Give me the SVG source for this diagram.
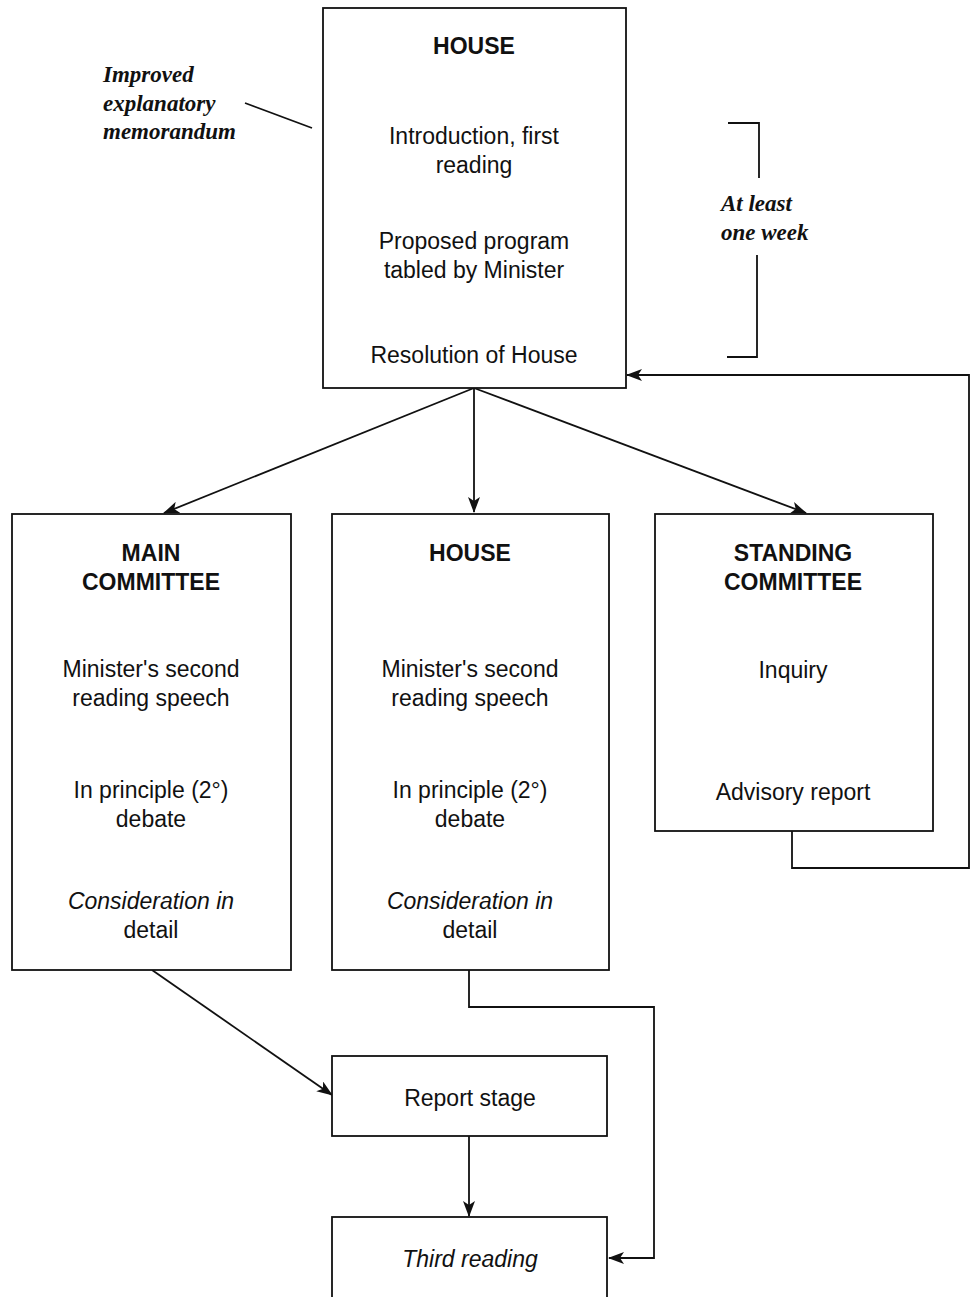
<svg xmlns="http://www.w3.org/2000/svg" width="972" height="1297" viewBox="0 0 972 1297">
<style>
.box{fill:#fff;stroke:#111;stroke-width:1.8}
.t{font-family:"Liberation Sans",Arial,sans-serif;font-size:23px;fill:#111;text-anchor:middle}
.b{font-weight:bold}
.i{font-style:italic}
.ann{font-family:"Liberation Serif","Times New Roman",serif;font-style:italic;font-weight:bold;font-size:23px;fill:#111}
.c{fill:none;stroke:#111;stroke-width:1.8}
</style>
<defs>
<marker id="ah" viewBox="0 0 16 12" refX="15" refY="6" markerWidth="16" markerHeight="12" markerUnits="userSpaceOnUse" orient="auto">
<path d="M0,0 L16,6 L0,12 L4,6 Z" fill="#111"/>
</marker>
</defs>
<rect width="972" height="1297" fill="#fff"/>
<g id="connectors">
<line class="c" x1="474" y1="388" x2="164" y2="513" marker-end="url(#ah)"/>
<line class="c" x1="474" y1="388" x2="474" y2="512" marker-end="url(#ah)"/>
<line class="c" x1="474" y1="388" x2="806" y2="513" marker-end="url(#ah)"/>
<polyline class="c" points="792,831 792,868 969,868 969,375 627,375" marker-end="url(#ah)"/>
<line class="c" x1="152" y1="970" x2="332" y2="1095" marker-end="url(#ah)"/>
<line class="c" x1="469" y1="1136" x2="469" y2="1216" marker-end="url(#ah)"/>
<polyline class="c" points="469,970 469,1007 654,1007 654,1258 609,1258" marker-end="url(#ah)"/>
</g>
<g id="annotation-memo">
<text class="ann" x="103" y="82">Improved</text>
<text class="ann" x="103" y="111">explanatory</text>
<text class="ann" x="103" y="139">memorandum</text>
<line class="c" x1="245" y1="103" x2="312" y2="128"/>
</g>
<g id="annotation-week">
<polyline class="c" points="728,123 759,123 759,178"/>
<text class="ann" x="721" y="211">At least</text>
<text class="ann" x="721" y="240">one week</text>
<polyline class="c" points="757,255 757,357 727,357"/>
</g>
<g id="house-top">
<rect class="box" x="323" y="8" width="303" height="380"/>
<text class="t b" x="474" y="54">HOUSE</text>
<text class="t" x="474" y="144">Introduction, first</text>
<text class="t" x="474" y="173">reading</text>
<text class="t" x="474" y="249">Proposed program</text>
<text class="t" x="474" y="278">tabled by Minister</text>
<text class="t" x="474" y="363">Resolution of House</text>
</g>
<g id="main-committee">
<rect class="box" x="12" y="514" width="279" height="456"/>
<text class="t b" x="151" y="561">MAIN</text>
<text class="t b" x="151" y="590">COMMITTEE</text>
<text class="t" x="151" y="677">Minister's second</text>
<text class="t" x="151" y="706">reading speech</text>
<text class="t" x="151" y="798">In principle (2°)</text>
<text class="t" x="151" y="827">debate</text>
<text class="t i" x="151" y="909">Consideration in</text>
<text class="t" x="151" y="938">detail</text>
</g>
<g id="house-middle">
<rect class="box" x="332" y="514" width="277" height="456"/>
<text class="t b" x="470" y="561">HOUSE</text>
<text class="t" x="470" y="677">Minister's second</text>
<text class="t" x="470" y="706">reading speech</text>
<text class="t" x="470" y="798">In principle (2°)</text>
<text class="t" x="470" y="827">debate</text>
<text class="t i" x="470" y="909">Consideration in</text>
<text class="t" x="470" y="938">detail</text>
</g>
<g id="standing-committee">
<rect class="box" x="655" y="514" width="278" height="317"/>
<text class="t b" x="793" y="561">STANDING</text>
<text class="t b" x="793" y="590">COMMITTEE</text>
<text class="t" x="793" y="678">Inquiry</text>
<text class="t" x="793" y="800">Advisory report</text>
</g>
<g id="report-stage">
<rect class="box" x="332" y="1056" width="275" height="80"/>
<text class="t" x="470" y="1106">Report stage</text>
</g>
<g id="third-reading">
<rect class="box" x="332" y="1217" width="275" height="82"/>
<text class="t i" x="470" y="1267">Third reading</text>
</g>
</svg>
